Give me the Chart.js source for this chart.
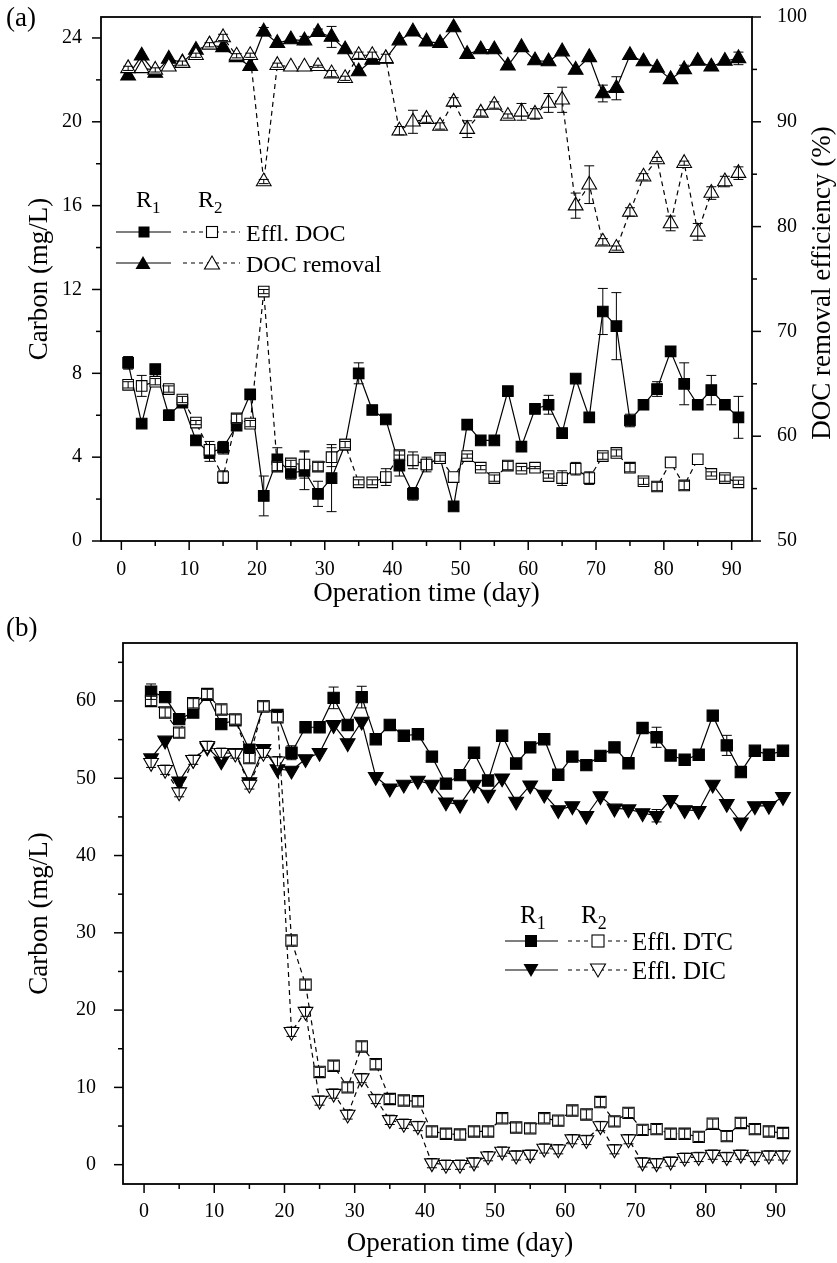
<!DOCTYPE html>
<html><head><meta charset="utf-8">
<script src="https://cdn.jsdelivr.net/npm/chart.js@4.4.1/dist/chart.umd.min.js"></script>
<style>
html,body{margin:0;padding:0;background:#fff;}
#wrap{position:relative;width:837px;height:1263px;overflow:hidden;font-family:"Liberation Serif","Times New Roman",serif;color:#000;background:#fff;}
canvas{position:absolute;left:0;}
.t{position:absolute;white-space:nowrap;line-height:1;}
.leg{font-size:24px;}
.legb{font-size:25px;}
.rot{position:absolute;white-space:nowrap;line-height:1;font-size:27px;transform:translate(-50%,-50%) rotate(-90deg);}
svg{position:absolute;left:0;top:0;}
</style></head><body>
<div id="wrap">
<canvas id="ca" width="837" height="610" style="top:0"></canvas>
<canvas id="cb" width="837" height="648" style="top:615px"></canvas>
<svg width="837" height="1263" viewBox="0 0 837 1263">
  <g stroke="#000" stroke-width="1.2" fill="none">
    <line x1="116" y1="232" x2="171" y2="232"/>
    <line x1="183" y1="232" x2="240" y2="232" stroke-dasharray="4 4"/>
    <line x1="116" y1="263" x2="171" y2="263"/>
    <line x1="183" y1="263" x2="240" y2="263" stroke-dasharray="4 4"/>
    <line x1="505" y1="941" x2="558" y2="941"/>
    <line x1="568" y1="941" x2="627" y2="941" stroke-dasharray="4 4"/>
    <line x1="505" y1="970" x2="558" y2="970"/>
    <line x1="568" y1="970" x2="627" y2="970" stroke-dasharray="4 4"/>
  </g>
  <rect x="138.5" y="226.5" width="11" height="11" fill="#000"/>
  <rect x="206.5" y="226.5" width="11" height="11" fill="#fff" stroke="#000" stroke-width="1.1"/>
  <polygon points="143,256 135.5,269 150.5,269" fill="#000"/>
  <polygon points="212,256 204.5,269 219.5,269" fill="#fff" stroke="#000" stroke-width="1.1"/>
  <rect x="525" y="935" width="12" height="12" fill="#000"/>
  <rect x="592" y="935" width="12" height="12" fill="#fff" stroke="#000" stroke-width="1.1"/>
  <polygon points="523.5,964 538.5,964 531,977" fill="#000"/>
  <polygon points="590.5,964 605.5,964 598,977" fill="#fff" stroke="#000" stroke-width="1.1"/>
</svg>
<div class="t" style="left:6px;top:4px;font-size:27px">(a)</div>
<div class="t" style="left:6px;top:614px;font-size:27px">(b)</div>
<div class="t leg" style="left:136px;top:187px">R<sub style="font-size:17px">1</sub></div>
<div class="t leg" style="left:198px;top:187px">R<sub style="font-size:17px">2</sub></div>
<div class="t leg" style="left:246px;top:221px">Effl. DOC</div>
<div class="t leg" style="left:246px;top:252px">DOC removal</div>
<div class="t legb" style="left:520px;top:902px">R<sub style="font-size:18px">1</sub></div>
<div class="t legb" style="left:581px;top:902px">R<sub style="font-size:18px">2</sub></div>
<div class="t legb" style="left:632px;top:929px">Effl. DTC</div>
<div class="t legb" style="left:632px;top:958px">Effl. DIC</div>
<div class="rot" style="left:821px;top:283px">DOC removal efficiency (%)</div>
</div>
<script>
// ---- data ----
const days = [1,3,5,7,9,11,13,15,17,19,21,23,25,27,29,31,33,35,37,39,41,43,45,47,49,51,53,55,57,59,61,63,65,67,69,71,73,75,77,79,81,83,85,87,89,91];
const xTicksMajor = [0,10,20,30,40,50,60,70,80,90];
const xTicksMinor = [5,15,25,35,45,55,65,75,85];
const leftTicksA = [0,4,8,12,16,20,24];
const leftMinorA = [2,6,10,14,18,22];
const rightTicksA = [50,60,70,80,90,100];
const rightMinorA = [55,65,75,85,95];
const yTicksB = [0,10,20,30,40,50,60];
const yMinorB = [5,15,25,35,45,55,65];

// Panel (a): effluent DOC (mg/L)
const docR1 = [8.5,5.6,8.2,6.0,6.6,4.8,4.2,4.45,5.5,7.0,2.15,3.9,3.25,3.35,2.25,3.0,4.6,8.0,6.25,5.8,3.6,2.25,3.65,3.95,1.65,5.55,4.8,4.8,7.15,4.5,6.3,6.5,5.15,7.75,5.9,10.95,10.25,5.75,6.5,7.25,9.05,7.5,6.5,7.2,6.5,5.9];
const docR2 = [7.45,7.4,7.6,7.25,6.75,5.65,4.35,3.05,5.85,5.6,11.9,3.55,3.7,3.65,3.55,4.0,4.6,2.8,2.8,3.05,4.1,3.85,3.65,3.95,3.05,4.05,3.5,3.0,3.6,3.45,3.5,3.1,3.0,3.45,3.0,4.05,4.2,3.5,2.85,2.6,3.75,2.65,3.9,3.2,3.0,2.8];
const docR1Err = [0.3,0,0,0.25,0,0,0.4,0.3,0,0,0.95,0.55,0.3,0.9,0.6,1.6,0,0.5,0,0,0.5,0.3,0,0,0,0,0,0,0,0,0,0.45,0,0,0,1.1,1.6,0.3,0,0.35,0,1.0,0,0.7,0,1.0];
const docR2Err = [0.15,0.5,0.15,0.15,0.15,0.1,0.4,0.3,0.2,0.15,0.1,0.2,0.15,0.65,0.2,0.45,0.15,0.12,0.12,0.4,0.2,0.4,0.35,0.15,0,0.1,0.1,0.15,0.2,0.1,0.05,0.1,0.35,0.3,0.3,0.15,0.15,0.2,0.15,0.2,0,0.2,0,0.1,0.15,0.1];
// Panel (a): DOC removal efficiency (%)
const remR1 = [94.4,96.3,94.65,96.0,95.65,96.85,97.35,97.1,96.15,95.3,98.6,97.5,97.85,97.75,98.55,98.1,96.9,94.8,95.9,96.0,97.75,98.6,97.65,97.5,99.0,96.45,96.9,96.9,95.35,97.1,95.85,95.75,96.7,94.95,96.15,92.7,93.2,96.35,95.75,95.15,94.05,95.0,95.8,95.25,95.8,96.05];
const remR2 = [95.1,95.1,94.95,95.25,95.6,96.35,97.35,98.05,96.3,96.35,84.3,95.4,95.25,95.25,95.3,94.6,94.15,96.35,96.35,96.05,89.15,90.0,90.25,89.6,91.9,89.3,90.85,91.6,90.55,90.95,90.75,91.8,92.1,82.0,84.0,78.55,77.95,81.4,84.75,86.4,80.3,86.05,79.5,83.2,84.3,85.1];
const remR1Err = [0,0,0,0,0,0,0,0,0,0,0.4,0,0,0.4,0.3,1.0,0,0,0,0,0,0,0,0,0,0,0,0,0,0,0,0,0,0,0,0.8,1.1,0,0,0,0,0.4,0,0,0,0.6];
const remR2Err = [0.2,0,0.2,0,0.2,0.2,0.2,0.3,0.2,0.2,0.2,0.2,0,0,0.1,0.3,0.2,0.3,0.3,0.4,0.4,1.1,0.3,0.3,0.4,0.8,0.3,0.3,0.2,0.8,0.5,0.9,1.2,1.2,1.8,0.3,0.2,0.4,0.3,0.2,0.7,0.2,0.8,0.6,0.5,0.6];

// Panel (b): effluent DTC and DIC (mg/L)
const dtcR1 = [61.2,60.5,57.65,58.5,60.8,57.0,57.5,53.7,59.3,58.2,53.3,56.6,56.6,60.4,56.9,60.5,55.05,56.9,55.5,55.7,52.8,49.3,50.4,53.3,49.7,55.5,51.9,54.0,55.05,50.45,52.8,51.7,52.9,54.0,51.95,56.5,55.3,52.95,52.4,53.05,58.1,54.25,50.8,53.55,53.05,53.55];
const dtcR2 = [60.0,58.5,55.9,59.7,60.9,58.9,57.6,52.6,59.3,57.9,29.0,23.3,12.0,12.8,10.0,15.3,13.0,8.5,8.3,8.2,4.3,4.0,3.9,4.3,4.3,6.0,4.8,4.7,6.0,5.7,7.0,6.5,8.1,5.6,6.7,4.5,4.6,4.0,4.0,3.6,5.3,3.7,5.4,4.6,4.3,4.1];
const dicR1 = [52.6,54.9,49.6,52.4,54.0,52.2,53.3,49.5,53.8,51.2,51.0,52.5,53.3,56.9,54.55,57.35,50.2,48.7,49.2,49.7,49.2,46.9,46.6,49.2,47.9,50.0,47.0,49.1,47.9,45.9,46.4,45.15,47.7,46.1,46.0,45.5,45.15,47.2,45.9,45.8,49.2,46.7,44.3,46.4,46.45,47.6];
const dicR2 = [52.0,51.1,48.2,52.4,54.2,53.3,53.2,49.2,53.3,52.2,17.2,19.8,8.3,9.2,6.5,11.2,8.5,5.8,5.3,5.0,0.2,0.0,0.0,0.3,1.1,1.7,1.2,1.3,2.1,2.0,3.3,3.2,5.0,2.0,3.3,0.3,0.2,0.4,0.9,1.0,1.3,1.0,1.3,1.0,1.2,1.2];
const dtcR1Err = [1.0,0,0,0,0,0,0,0,0,0,0.9,0,0,1.4,0,1.4,0,0.5,0,0,0,0,0,0,0,0,0,0,0,0,0,0,0,0,0,0,1.3,0,0,0,0,1.3,0,0,0,0];
const dtcR2Err = [0.6,0.6,0.6,0.6,0.6,0.6,0.6,0.6,0.6,0.6,0.6,0.6,0.6,0.6,0.6,0.6,0.6,0.6,0.6,0.6,0.6,0.6,0.6,0.6,0.6,0.6,0.6,0.6,0.6,0.6,0.6,0.6,0.6,0.6,0.6,0.6,0.6,0.6,0.6,0.6,0.6,0.6,0.6,0.6,0.6,0.6];
const dicR1Err = [0,0,0,0,0,0,0,0,0,0,0,0,0,0,0,0,0,0,0,0,0,0,0,0,0,0,0,0,0,0,0,0,0,0,0,0,0.8,0,0,0,0,0,0,0,0,0];
const dicR2Err = [0.6,0.6,0.6,0.6,0.6,0.6,0.6,0.6,0.6,0.6,0.6,0.6,0.6,0.6,0.6,0.6,0.6,0.6,0.6,0.6,0.6,0.6,0.6,0.6,0.6,0.6,0.6,0.6,0.6,0.6,0.6,0.6,0.6,0.6,0.6,0.6,0.6,0.6,0.6,0.6,0.6,0.6,0.6,0.6,0.6,0.6];

// ---- rendering ----
const FONT = '"Liberation Serif","Times New Roman",serif';
function pts(vals){ return days.map((d,i)=>({x:d, y:vals[i]})); }
function series(label, vals, errs, axis, filled, dashed, style, rot, radius){
  return {
    label, data: pts(vals), errors: errs, yAxisID: axis,
    borderColor:'#000', backgroundColor: filled ? '#000' : '#fff',
    borderWidth:1.2, borderDash: dashed ? [5,4] : [],
    pointStyle: style, pointRotation: rot || 0, pointRadius: radius, pointHoverRadius: radius,
    pointBackgroundColor: filled ? '#000' : '#fff', pointBorderColor:'#000', pointBorderWidth:1.1,
    tension:0, fill:false, order: dashed ? 0 : 1
  };
}
const errPlugin = {
  id:'errbars',
  afterDatasetsDraw(chart){
    const ctx = chart.ctx; ctx.save(); ctx.strokeStyle='#000'; ctx.lineWidth=1; ctx.setLineDash([]);
    chart.data.datasets.forEach((d,di)=>{
      if(!d.errors) return;
      const meta = chart.getDatasetMeta(di); const ys = chart.scales[d.yAxisID];
      meta.data.forEach((pt,i)=>{
        const e = d.errors[i]; if(!e) return;
        const v = d.data[i].y; const y1 = ys.getPixelForValue(v+e), y2 = ys.getPixelForValue(v-e); const x = pt.x;
        ctx.beginPath();
        ctx.moveTo(x,y1); ctx.lineTo(x,y2);
        ctx.moveTo(x-5,y1); ctx.lineTo(x+5,y1);
        ctx.moveTo(x-5,y2); ctx.lineTo(x+5,y2);
        ctx.stroke();
      });
    });
    ctx.restore();
  }
};
const frameTicks = {
  id:'frameTicks',
  afterDraw(chart, args, opts){
    const ctx = chart.ctx, a = chart.chartArea;
    ctx.save(); ctx.strokeStyle='#000'; ctx.setLineDash([]);
    ctx.lineWidth = 1.8;
    ctx.strokeRect(a.left, a.top, a.right-a.left, a.bottom-a.top);
    ctx.lineWidth = 1.5;
    (opts.list||[]).forEach(t=>{
      const s = chart.scales[t.id];
      const draw = (vals,len)=>vals.forEach(v=>{
        const p = s.getPixelForValue(v);
        ctx.beginPath();
        if(t.side==='bottom'){ ctx.moveTo(p,a.bottom); ctx.lineTo(p,a.bottom+len); }
        else if(t.side==='left'){ ctx.moveTo(a.left,p); ctx.lineTo(a.left-len,p); }
        else { ctx.moveTo(a.right,p); ctx.lineTo(a.right+len,p); }
        ctx.stroke();
      });
      draw(t.major,9); draw(t.minor,5);
    });
    ctx.restore();
  }
};
function zeroPad(s){ s.paddingTop = 0; s.paddingBottom = 0; s.paddingLeft = 0; s.paddingRight = 0; }
function xScale(h, pad, titlePad){
  return {type:'linear', position:'bottom', min:-3, max:93,
    afterBuildTicks: s=>{ s.ticks = xTicksMajor.map(v=>({value:v})); },
    afterFit: s=>{ s.height = h; zeroPad(s); },
    grid:{display:false}, border:{display:false},
    ticks:{font:{family:FONT,size:20}, color:'#000', padding:pad, maxRotation:0, autoSkip:false},
    title:{display:true, text:'Operation time (day)', font:{family:FONT,size:27}, color:'#000', padding:{top:0,bottom:titlePad}}};
}
function yScale(pos, min, max, ticks, w, pad, title, titlePad){
  const o = {type:'linear', position:pos, min, max,
    afterBuildTicks: s=>{ s.ticks = ticks.map(v=>({value:v})); },
    afterFit: s=>{ s.width = w; zeroPad(s); },
    grid:{display:false}, border:{display:false},
    ticks:{font:{family:FONT,size:20}, color:'#000', padding:pad, autoSkip:false},
    title:{display:false}};
  if(title){ o.title = {display:true, text:title, font:{family:FONT,size:27}, color:'#000', padding:{top:titlePad,bottom:0}}; }
  return o;
}
const common = {responsive:false, animation:false, devicePixelRatio:1,
  elements:{line:{borderCapStyle:'butt'}}};

new Chart(document.getElementById('ca'), {
  type:'line',
  data:{datasets:[
    series('R1 Effl. DOC', docR1, docR1Err, 'y', true, false, 'rect', 0, 7.5),
    series('R1 DOC removal', remR1, remR1Err, 'y2', true, false, 'triangle', 0, 8.5),
    series('R2 Effl. DOC', docR2, docR2Err, 'y', false, true, 'rect', 0, 7.5),
    series('R2 DOC removal', remR2, remR2Err, 'y2', false, true, 'triangle', 0, 8.5)
  ]},
  options:Object.assign({}, common, {
    layout:{padding:{top:17,left:0,right:0,bottom:0}},
    scales:{
      x: xScale(69, 9, 0),
      y: yScale('left', 0, 25, leftTicksA, 101, 11, 'Carbon (mg/L)', 24),
      y2: yScale('right', 50, 100, rightTicksA, 85, 17, null, 0)
    },
    plugins:{legend:{display:false}, tooltip:{enabled:false},
      frameTicks:{list:[
        {id:'x', side:'bottom', major:xTicksMajor, minor:xTicksMinor},
        {id:'y', side:'left', major:leftTicksA, minor:leftMinorA},
        {id:'y2', side:'right', major:rightTicksA, minor:rightMinorA}
      ]}}
  }),
  plugins:[errPlugin, frameTicks]
});

new Chart(document.getElementById('cb'), {
  type:'line',
  data:{datasets:[
    series('R1 Effl. DTC', dtcR1, dtcR1Err, 'y', true, false, 'rect', 0, 8),
    series('R1 Effl. DIC', dicR1, dicR1Err, 'y', true, false, 'triangle', 180, 8.5),
    series('R2 Effl. DTC', dtcR2, dtcR2Err, 'y', false, true, 'rect', 0, 8),
    series('R2 Effl. DIC', dicR2, dicR2Err, 'y', false, true, 'triangle', 180, 8.5)
  ]},
  options:Object.assign({}, common, {
    layout:{padding:{top:28,left:0,right:40,bottom:0}},
    scales:{
      x: xScale(79, 8, 2.5),
      y: yScale('left', -2.5, 67.5, yTicksB, 123, 19, 'Carbon (mg/L)', 24)
    },
    plugins:{legend:{display:false}, tooltip:{enabled:false},
      frameTicks:{list:[
        {id:'x', side:'bottom', major:xTicksMajor, minor:xTicksMinor},
        {id:'y', side:'left', major:yTicksB, minor:yMinorB}
      ]}}
  }),
  plugins:[errPlugin, frameTicks]
});
</script>
</body></html>
